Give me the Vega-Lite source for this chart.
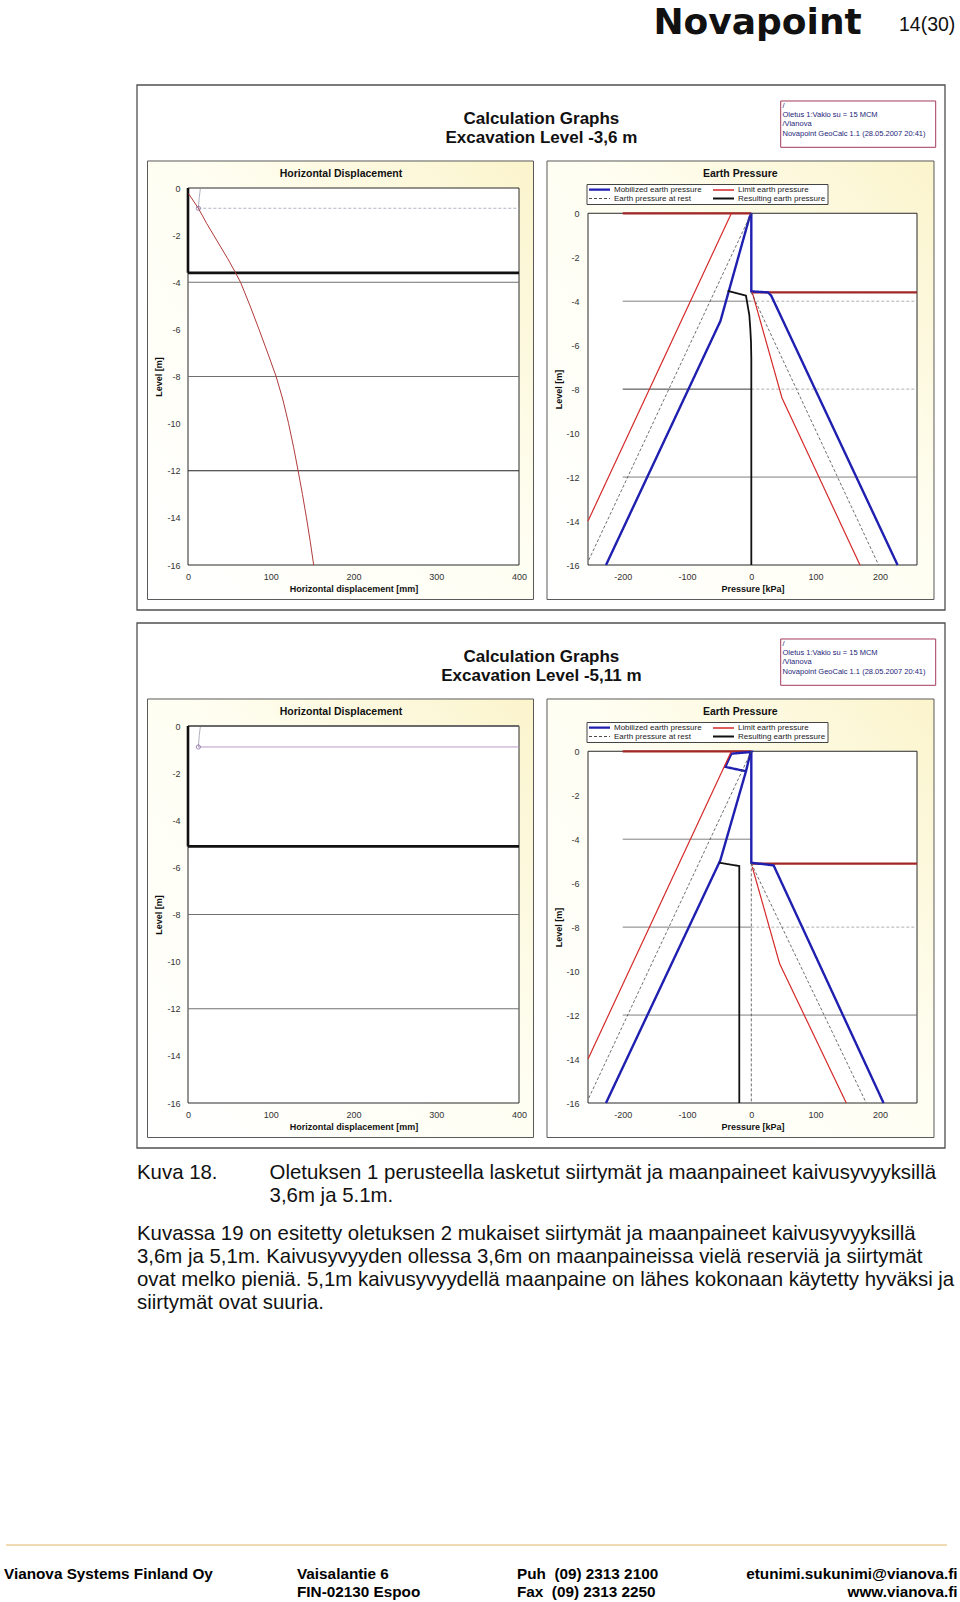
{
"$schema": "https://vega.github.io/schema/vega-lite/v6.json",
"background": "#ffffff",
"padding": 0,
"columns": 2,
"spacing": {"row": 161, "column": 69},
"bounds": "flush",
"align": "all",
"resolve": {"scale": {"color": "independent", "strokeDash": "independent"}, "legend": {"color": "independent", "strokeDash": "independent"}},
"config": {"view": {"stroke": null}, "font": "Liberation Sans"},
"datasets": {
 "disp1": [{"x":0.8,"z":-0.25},{"x":12.5,"z":-0.86},{"x":22.5,"z":-1.5},{"x":31,"z":-2},{"x":48,"z":-3},{"x":57.5,"z":-3.6},{"x":63.5,"z":-4},{"x":75,"z":-5},{"x":85.8,"z":-6},{"x":96.3,"z":-7},{"x":106.5,"z":-8},{"x":114.8,"z":-9},{"x":121.6,"z":-10},{"x":127.6,"z":-11},{"x":133.1,"z":-12},{"x":138.3,"z":-13},{"x":143.2,"z":-14},{"x":147.7,"z":-15},{"x":151.9,"z":-16}],
 "anc1": [{"x":14.9,"z":-0.04},{"x":13.6,"z":-0.4},{"x":12.5,"z":-0.86}],
 "pin1": [{"x":12.5,"z":-0.86}],
 "lvl1": [
  {"k":"excavation","x1":0,"x2":400,"z1":-3.6,"z2":-3.6},
  {"k":"excavation","x1":0,"x2":0,"z1":0,"z2":-3.6},
  {"k":"layer","x1":0,"x2":400,"z1":-4,"z2":-4},
  {"k":"layer","x1":0,"x2":400,"z1":-8,"z2":-8},
  {"k":"deep","x1":0,"x2":400,"z1":-12,"z2":-12},
  {"k":"anchor","x1":12.5,"x2":400,"z1":-0.86,"z2":-0.86}],
 "anc2": [{"x":14.9,"z":-0.04},{"x":13.6,"z":-0.4},{"x":12.5,"z":-0.89}],
 "pin2": [{"x":12.5,"z":-0.89}],
 "lvl2": [
  {"k":"ground","x1":0,"x2":400,"z1":0,"z2":0},
  {"k":"excavation","x1":0,"x2":400,"z1":-5.11,"z2":-5.11},
  {"k":"excavation","x1":0,"x2":0,"z1":0,"z2":-5.11},
  {"k":"layer","x1":0,"x2":400,"z1":-8,"z2":-8},
  {"k":"layer","x1":0,"x2":400,"z1":-12,"z2":-12},
  {"k":"anchor2","x1":12.5,"x2":400,"z1":-0.89,"z2":-0.89}],
 "rl1": [
  {"k":"surface","p1":-200,"p2":0,"z":0},
  {"k":"excavation","p1":0,"p2":257.7,"z":-3.6},
  {"k":"layer","p1":-200,"p2":0,"z":-4},
  {"k":"rest","p1":0,"p2":257.7,"z":-4},
  {"k":"deep","p1":-200,"p2":0,"z":-8},
  {"k":"rest","p1":0,"p2":257.7,"z":-8},
  {"k":"layer","p1":-200,"p2":257.7,"z":-12}],
 "rl2": [
  {"k":"surface","p1":-200,"p2":0,"z":0},
  {"k":"excavation","p1":0,"p2":257.7,"z":-5.11},
  {"k":"layer","p1":-200,"p2":0,"z":-4},
  {"k":"layer","p1":-200,"p2":0,"z":-8},
  {"k":"rest","p1":0,"p2":257.7,"z":-8},
  {"k":"layer","p1":-200,"p2":257.7,"z":-12}],
 "ep1": [
  {"s":"Mobilized earth pressure","g":"mL","p":0,"z":0},{"s":"Mobilized earth pressure","g":"mL","p":-3,"z":-0.2},{"s":"Mobilized earth pressure","g":"mL","p":-48,"z":-4.9},{"s":"Mobilized earth pressure","g":"mL","p":-226,"z":-16},
  {"s":"Mobilized earth pressure","g":"mR","p":0,"z":0},{"s":"Mobilized earth pressure","g":"mR","p":0,"z":-3.55},{"s":"Mobilized earth pressure","g":"mR","p":26,"z":-3.6},{"s":"Mobilized earth pressure","g":"mR","p":31,"z":-3.75},{"s":"Mobilized earth pressure","g":"mR","p":227.5,"z":-16},
  {"s":"Limit earth pressure","g":"lL","p":-31,"z":0},{"s":"Limit earth pressure","g":"lL","p":-254,"z":-14},
  {"s":"Limit earth pressure","g":"lR","p":1.5,"z":-3.6},{"s":"Limit earth pressure","g":"lR","p":47.7,"z":-8.4},{"s":"Limit earth pressure","g":"lR","p":169,"z":-16},
  {"s":"Earth pressure at rest","g":"rL","p":0,"z":0},{"s":"Earth pressure at rest","g":"rL","p":-254,"z":-15.85},
  {"s":"Earth pressure at rest","g":"rR","p":0,"z":-3.6},{"s":"Earth pressure at rest","g":"rR","p":198,"z":-16},
  {"s":"Resulting earth pressure","g":"res","p":-36.8,"z":-3.53},{"s":"Resulting earth pressure","g":"res","p":-8.3,"z":-3.75},{"s":"Resulting earth pressure","g":"res","p":-3.1,"z":-4.63},{"s":"Resulting earth pressure","g":"res","p":-1.6,"z":-5.23},{"s":"Resulting earth pressure","g":"res","p":-0.5,"z":-5.84},{"s":"Resulting earth pressure","g":"res","p":0,"z":-6.6},{"s":"Resulting earth pressure","g":"res","p":0,"z":-16}],
 "ep2": [
  {"s":"Mobilized earth pressure","g":"mL","p":-8.3,"z":-0.91},{"s":"Mobilized earth pressure","g":"mL","p":-1.6,"z":-0.11},{"s":"Mobilized earth pressure","g":"mL","p":0,"z":-0.03},{"s":"Mobilized earth pressure","g":"mL","p":-31.1,"z":-0.11},{"s":"Mobilized earth pressure","g":"mL","p":-40.4,"z":-0.71},{"s":"Mobilized earth pressure","g":"mL","p":-8.3,"z":-0.91},{"s":"Mobilized earth pressure","g":"mL","p":-48.2,"z":-4.96},{"s":"Mobilized earth pressure","g":"mL","p":-226,"z":-16},
  {"s":"Mobilized earth pressure","g":"mR","p":0,"z":-0.03},{"s":"Mobilized earth pressure","g":"mR","p":0,"z":-5.07},{"s":"Mobilized earth pressure","g":"mR","p":34.7,"z":-5.19},{"s":"Mobilized earth pressure","g":"mR","p":205.7,"z":-16},
  {"s":"Limit earth pressure","g":"lL","p":-31,"z":0},{"s":"Limit earth pressure","g":"lL","p":-254,"z":-14},
  {"s":"Limit earth pressure","g":"lR","p":1.5,"z":-5.26},{"s":"Limit earth pressure","g":"lR","p":44,"z":-9.66},{"s":"Limit earth pressure","g":"lR","p":147.7,"z":-16},
  {"s":"Earth pressure at rest","g":"rL","p":0,"z":0},{"s":"Earth pressure at rest","g":"rL","p":-254,"z":-15.85},
  {"s":"Earth pressure at rest","g":"rR","p":0,"z":-5.1},{"s":"Earth pressure at rest","g":"rR","p":178.8,"z":-16},
  {"s":"Earth pressure at rest","g":"rV","p":0,"z":-5.1},{"s":"Earth pressure at rest","g":"rV","p":0,"z":-16},
  {"s":"Resulting earth pressure","g":"res","p":-49.7,"z":-5.07},{"s":"Resulting earth pressure","g":"res","p":-18.7,"z":-5.22},{"s":"Resulting earth pressure","g":"res","p":-18.7,"z":-16}]
},
"concat": [
{
 "width": 331, "height": 377,
 "resolve": {"axis": {"x": "independent", "y": "independent"}},
 "layer": [
  {"data": {"values": [{}]}, "mark": {"type": "rect", "fill": "#ffffff"},
   "encoding": {"x": {"datum": -226.949, "type": "quantitative", "scale": {"domain":[0,400],"nice":false,"zero":false}, "axis": null}, "x2": {"datum": 932.689},
                "y": {"datum": 7.9703, "type": "quantitative", "scale": {"domain":[-16,0],"nice":false,"zero":false}, "axis": null}, "y2": {"datum": -60.0021}}},
  {"data": {"values": [{}]}, "mark": {"type": "rect", "filled": false, "color": "#505050", "strokeWidth": 1.3},
   "encoding": {"x": {"datum": -61.63, "type": "quantitative", "scale": {"domain":[0,400],"nice":false,"zero":false}, "axis": null}, "x2": {"datum": 914.8},
                "y": {"datum": 4.3714, "type": "quantitative", "scale": {"domain":[-16,0],"nice":false,"zero":false}, "axis": null}, "y2": {"datum": -17.91}}},
  {"data": {"values": [{}]}, "mark": {"type": "rect", "stroke": "#5a5a5a", "strokeWidth": 1, "fill": {"gradient": "linear", "x1": 0, "y1": 1, "x2": 1, "y2": 0, "stops": [{"offset": 0, "color": "#ffffff"}, {"offset": 0.55, "color": "#fffef2"}, {"offset": 1, "color": "#fbf4cc"}]}},
   "encoding": {"x": {"datum": -48.94, "type": "quantitative", "scale": {"domain":[0,400],"nice":false,"zero":false}, "axis": null}, "x2": {"datum": 417.52},
                "y": {"datum": 1.1459, "type": "quantitative", "scale": {"domain":[-16,0],"nice":false,"zero":false}, "axis": null}, "y2": {"datum": -17.464}}},
  {"data": {"values": [{}]}, "mark": {"type": "rect", "fill": "#ffffff", "stroke": "#2a2a2a", "strokeWidth": 1},
   "encoding": {"x": {"datum": 0, "type": "quantitative", "scale": {"domain":[0,400],"nice":false,"zero":false}, "axis": null}, "x2": {"datum": 400},
                "y": {"datum": 0, "type": "quantitative", "scale": {"domain":[-16,0],"nice":false,"zero":false}, "axis": null}, "y2": {"datum": -16}}},
  {"data": {"name": "lvl1"}, "mark": {"type": "rule"},
   "encoding": {
    "x": {"field": "x1", "type": "quantitative", "scale": {"domain":[0,400],"nice":false,"zero":false},
          "axis": {"orient": "top", "values": [0,20,40,60,80,100,120,140,160,180,200,220,240,260,280,300,320,340,360,380,400], "labels": false, "domain": false, "grid": false, "tickSize": 0, "tickColor": "#222222", "title": null, "zindex": 1,
                   "encode": {"ticks": {"update": {"y": {"signal": "datum.value % 100 === 0 ? -3 : 0"}, "y2": {"signal": "datum.value % 100 === 0 ? 4 : 3"}}}}}},
    "x2": {"field": "x2"},
    "y": {"field": "z1", "type": "quantitative", "scale": {"domain":[-16,0],"nice":false,"zero":false},
          "axis": {"orient": "right", "values": [-16,-15.5,-15,-14.5,-14,-13.5,-13,-12.5,-12,-11.5,-11,-10.5,-10,-9.5,-9,-8.5,-8,-7.5,-7,-6.5,-6,-5.5,-5,-4.5,-4,-3.5,-3,-2.5,-2,-1.5,-1,-0.5,0], "labels": false, "domain": false, "grid": false, "tickSize": 0, "tickColor": "#222222", "title": null, "zindex": 1,
                   "encode": {"ticks": {"update": {"x": {"signal": "datum.value % 2 === 0 ? 3 : 0"}, "x2": {"signal": "datum.value % 2 === 0 ? -4 : -3"}}}}}},
    "y2": {"field": "z2"},
    "color": {"condition": [{"test": "datum.k === 'excavation'", "value": "#111111"}, {"test": "datum.k === 'deep'", "value": "#222222"}, {"test": "datum.k === 'anchor'", "value": "#b4b4c4"}], "value": "#707070"},
    "strokeWidth": {"condition": [{"test": "datum.k === 'excavation'", "value": 2.6}], "value": 1},
    "strokeDash": {"condition": [{"test": "datum.k === 'anchor'", "value": [3, 2]}], "value": [1, 0]}
   }},
  {"data": {"name": "anc1"}, "mark": {"type": "line", "color": "#9a9aae", "strokeWidth": 0.8},
   "encoding": {"x": {"field": "x", "type": "quantitative", "scale": {"domain":[0,400],"nice":false,"zero":false}, "axis": null},
                "y": {"field": "z", "type": "quantitative", "scale": {"domain":[-16,0],"nice":false,"zero":false}, "axis": null},
                "order": {"value": null}}},
  {"data": {"name": "disp1"}, "mark": {"type": "line", "color": "#b23a3a", "strokeWidth": 1},
   "encoding": {
    "x": {"field": "x", "type": "quantitative", "scale": {"domain":[0,400],"nice":false,"zero":false},
          "axis": {"orient": "bottom", "values": [0,20,40,60,80,100,120,140,160,180,200,220,240,260,280,300,320,340,360,380,400], "labelExpr": "datum.value % 100 === 0 ? '' + datum.value : ''", "labelFlush": false, "labelOverlap": false, "labelPadding": 7, "labelFont": "Liberation Sans", "labelFontSize": 9, "labelColor": "#333333", "domain": false, "grid": false, "tickSize": 0, "tickColor": "#222222", "title": "Horizontal displacement [mm]", "titleFont": "Liberation Sans", "titleFontSize": 9, "titleFontWeight": "bold", "titleColor": "#111111", "titleY": 26, "titleBaseline": "alphabetic", "zindex": 1,
                   "encode": {"ticks": {"update": {"y": {"signal": "datum.value % 100 === 0 ? 3 : 0"}, "y2": {"signal": "datum.value % 100 === 0 ? -4 : -3"}}}}}},
    "y": {"field": "z", "type": "quantitative", "scale": {"domain":[-16,0],"nice":false,"zero":false},
          "axis": {"orient": "left", "values": [-16,-15.5,-15,-14.5,-14,-13.5,-13,-12.5,-12,-11.5,-11,-10.5,-10,-9.5,-9,-8.5,-8,-7.5,-7,-6.5,-6,-5.5,-5,-4.5,-4,-3.5,-3,-2.5,-2,-1.5,-1,-0.5,0], "labelExpr": "datum.value % 2 === 0 ? '' + datum.value : ''", "labelFlush": false, "labelOverlap": false, "labelPadding": 8, "labelFont": "Liberation Sans", "labelFontSize": 9, "labelColor": "#333333", "domain": false, "grid": false, "tickSize": 0, "tickColor": "#222222", "title": "Level [m]", "titleFont": "Liberation Sans", "titleFontSize": 9, "titleFontWeight": "bold", "titleColor": "#111111", "titleX": -26.5, "titleAngle": 270, "titleBaseline": "alphabetic", "zindex": 1,
                   "encode": {"ticks": {"update": {"x": {"signal": "datum.value % 2 === 0 ? -3 : 0"}, "x2": {"signal": "datum.value % 2 === 0 ? 4 : 3"}}}}}},
    "order": {"value": null}
   }},
  {"data": {"name": "pin1"}, "mark": {"type": "point", "shape": "circle", "filled": false, "size": 18, "strokeWidth": 1, "color": "#7b5c9c"},
   "encoding": {"x": {"field": "x", "type": "quantitative", "scale": {"domain":[0,400],"nice":false,"zero":false}, "axis": null},
                "y": {"field": "z", "type": "quantitative", "scale": {"domain":[-16,0],"nice":false,"zero":false}, "axis": null}}},
  {"data": {"values": [{}]}, "mark": {"type": "text", "text": ["Calculation Graphs", "Excavation Level -3,6 m"], "align": "center", "baseline": "alphabetic", "font": "Liberation Sans", "fontSize": 17, "fontWeight": "bold", "lineHeight": 19.4, "color": "#111111"},
   "encoding": {"x": {"datum": 427.07, "type": "quantitative", "scale": {"domain":[0,400],"nice":false,"zero":false}, "axis": null},
                "y": {"datum": 2.7332, "type": "quantitative", "scale": {"domain":[-16,0],"nice":false,"zero":false}, "axis": null}}},
  {"data": {"values": [{}]}, "mark": {"type": "text", "text": "Horizontal Displacement", "align": "center", "baseline": "alphabetic", "font": "Liberation Sans", "fontSize": 10.5, "fontWeight": "bold", "color": "#111111"},
   "encoding": {"x": {"datum": 184.9, "type": "quantitative", "scale": {"domain":[0,400],"nice":false,"zero":false}, "axis": null},
                "y": {"datum": 0.4668, "type": "quantitative", "scale": {"domain":[-16,0],"nice":false,"zero":false}, "axis": null}}},
  {"data": {"values": [{}]}, "mark": {"type": "text", "text": "Novapoint", "align": "left", "baseline": "alphabetic", "font": "DejaVu Sans", "fontSize": 36, "fontWeight": "bold", "color": "#111111"},
   "encoding": {"x": {"datum": 562.5, "type": "quantitative", "scale": {"domain":[0,400],"nice":false,"zero":false}, "axis": null},
                "y": {"datum": 6.557, "type": "quantitative", "scale": {"domain":[-16,0],"nice":false,"zero":false}, "axis": null}}},
  {"data": {"values": [{}]}, "mark": {"type": "text", "text": "14(30)", "align": "left", "baseline": "alphabetic", "font": "Liberation Sans", "fontSize": 19.5, "color": "#111111"},
   "encoding": {"x": {"datum": 859.2, "type": "quantitative", "scale": {"domain":[0,400],"nice":false,"zero":false}, "axis": null},
                "y": {"datum": 6.6420, "type": "quantitative", "scale": {"domain":[-16,0],"nice":false,"zero":false}, "axis": null}}}
 ]
},
{
 "width": 329, "height": 377,
 "resolve": {"axis": {"x": "independent", "y": "independent"}},
 "layer": [
  {"data": {"values": [{}]}, "mark": {"type": "rect", "stroke": "#5a5a5a", "strokeWidth": 1, "fill": {"gradient": "linear", "x1": 0, "y1": 1, "x2": 1, "y2": 0, "stops": [{"offset": 0, "color": "#ffffff"}, {"offset": 0.55, "color": "#fffef2"}, {"offset": 1, "color": "#fbf4cc"}]}},
   "encoding": {"x": {"datum": -317.77, "type": "quantitative", "scale": {"domain":[-254,257.7],"nice":false,"zero":false}, "axis": null}, "x2": {"datum": 284.14},
                "y": {"datum": 2.3783, "type": "quantitative", "scale": {"domain":[-16,1.15],"nice":false,"zero":false}, "axis": null}, "y2": {"datum": -17.569}}},
  {"data": {"values": [{}]}, "mark": {"type": "rect", "fill": "#ffffff", "stroke": "#2a2a2a", "strokeWidth": 1},
   "encoding": {"x": {"datum": -254, "type": "quantitative", "scale": {"domain":[-254,257.7],"nice":false,"zero":false}, "axis": null}, "x2": {"datum": 257.7},
                "y": {"datum": 0, "type": "quantitative", "scale": {"domain":[-16,1.15],"nice":false,"zero":false}, "axis": null}, "y2": {"datum": -16}}},
  {"data": {"name": "rl1"}, "mark": {"type": "rule"},
   "encoding": {
    "x": {"field": "p1", "type": "quantitative", "scale": {"domain":[-254,257.7],"nice":false,"zero":false},
          "axis": {"orient": "top", "offset": -25.28, "values": [-240,-220,-200,-180,-160,-140,-120,-100,-80,-60,-40,-20,0,20,40,60,80,100,120,140,160,180,200,220,240], "labels": false, "domain": false, "grid": false, "tickSize": 0, "tickColor": "#222222", "title": null, "zindex": 1,
                   "encode": {"ticks": {"update": {"y": {"signal": "datum.value % 100 === 0 ? -3 : 0"}, "y2": {"signal": "datum.value % 100 === 0 ? 4 : 3"}}}}}},
    "x2": {"field": "p2"},
    "y": {"field": "z", "type": "quantitative", "scale": {"domain":[-16,1.15],"nice":false,"zero":false},
          "axis": {"orient": "right", "values": [-16,-15.5,-15,-14.5,-14,-13.5,-13,-12.5,-12,-11.5,-11,-10.5,-10,-9.5,-9,-8.5,-8,-7.5,-7,-6.5,-6,-5.5,-5,-4.5,-4,-3.5,-3,-2.5,-2,-1.5,-1,-0.5,0], "labels": false, "domain": false, "grid": false, "tickSize": 0, "tickColor": "#222222", "title": null, "zindex": 1,
                   "encode": {"ticks": {"update": {"x": {"signal": "datum.value % 2 === 0 ? 3 : 0"}, "x2": {"signal": "datum.value % 2 === 0 ? -4 : -3"}}}}}},
    "color": {"condition": [{"test": "datum.k === 'surface' || datum.k === 'excavation'", "value": "#a32626"}, {"test": "datum.k === 'deep'", "value": "#222222"}, {"test": "datum.k === 'rest'", "value": "#9a9a9a"}], "value": "#707070"},
    "strokeWidth": {"condition": [{"test": "datum.k === 'surface' || datum.k === 'excavation'", "value": 2.2}, {"test": "datum.k === 'rest'", "value": 0.8}], "value": 1},
    "strokeDash": {"condition": [{"test": "datum.k === 'rest'", "value": [3, 2]}], "value": [1, 0]}
   }},
  {"data": {"name": "ep1"}, "mark": {"type": "line"},
   "encoding": {
    "x": {"field": "p", "type": "quantitative", "scale": {"domain":[-254,257.7],"nice":false,"zero":false},
          "axis": {"orient": "bottom", "values": [-240,-220,-200,-180,-160,-140,-120,-100,-80,-60,-40,-20,0,20,40,60,80,100,120,140,160,180,200,220,240], "labelExpr": "datum.value % 100 === 0 ? '' + datum.value : ''", "labelFlush": false, "labelOverlap": false, "labelPadding": 7, "labelFont": "Liberation Sans", "labelFontSize": 9, "labelColor": "#333333", "domain": false, "grid": false, "tickSize": 0, "tickColor": "#222222", "title": "Pressure [kPa]", "titleFont": "Liberation Sans", "titleFontSize": 9, "titleFontWeight": "bold", "titleColor": "#111111", "titleY": 26, "titleBaseline": "alphabetic", "zindex": 1,
                   "encode": {"ticks": {"update": {"y": {"signal": "datum.value % 100 === 0 ? 3 : 0"}, "y2": {"signal": "datum.value % 100 === 0 ? -4 : -3"}}}}}},
    "y": {"field": "z", "type": "quantitative", "scale": {"domain":[-16,1.15],"nice":false,"zero":false},
          "axis": {"orient": "left", "values": [-16,-15.5,-15,-14.5,-14,-13.5,-13,-12.5,-12,-11.5,-11,-10.5,-10,-9.5,-9,-8.5,-8,-7.5,-7,-6.5,-6,-5.5,-5,-4.5,-4,-3.5,-3,-2.5,-2,-1.5,-1,-0.5,0], "labelExpr": "datum.value % 2 === 0 ? '' + datum.value : ''", "labelFlush": false, "labelOverlap": false, "labelPadding": 9, "labelFont": "Liberation Sans", "labelFontSize": 9, "labelColor": "#333333", "domain": false, "grid": false, "tickSize": 0, "tickColor": "#222222", "title": "Level [m]", "titleFont": "Liberation Sans", "titleFontSize": 9, "titleFontWeight": "bold", "titleColor": "#111111", "titleX": -26.5, "titleY": 201, "titleAngle": 270, "titleBaseline": "alphabetic", "zindex": 1,
                   "encode": {"ticks": {"update": {"x": {"signal": "datum.value % 2 === 0 ? -3 : 0"}, "x2": {"signal": "datum.value % 2 === 0 ? 4 : 3"}}}}}},
    "color": {"field": "s", "type": "nominal", "scale": {"domain": ["Mobilized earth pressure", "Limit earth pressure", "Earth pressure at rest", "Resulting earth pressure"], "range": ["#1f1fb0", "#d42a2a", "#4a4a4a", "#111111"]},
              "legend": {"orient": "none", "legendX": -1.5, "legendY": -4, "title": null, "columns": 2, "direction": "horizontal", "padding": 1.5, "rowPadding": 0, "columnPadding": 7, "strokeColor": "#444444", "fillColor": "#ffffff", "symbolType": "M-0.6,0H3.6", "symbolSize": 100, "symbolStrokeWidth": 1.5, "labelFont": "Liberation Sans", "labelFontSize": 8, "labelColor": "#222222", "labelOffset": 18, "labelLimit": 200,
                         "encode": {"symbols": {"update": {"strokeWidth": {"signal": "datum.value === 'Mobilized earth pressure' ? 2.4 : datum.value === 'Resulting earth pressure' ? 2 : datum.value === 'Earth pressure at rest' ? 1 : 1.4"}, "strokeDash": {"signal": "datum.value === 'Limit earth pressure' ? [3.5, 1.8] : datum.value === 'Earth pressure at rest' ? [2, 1.8] : [1, 0]"}}}}}},
    "strokeDash": {"field": "s", "type": "nominal", "scale": {"domain": ["Mobilized earth pressure", "Limit earth pressure", "Earth pressure at rest", "Resulting earth pressure"], "range": [[1, 0], [1, 0], [3, 2], [1, 0]]},
              "legend": null},
    "strokeWidth": {"condition": [{"test": "datum.s === 'Mobilized earth pressure'", "value": 2.4}, {"test": "datum.s === 'Resulting earth pressure'", "value": 1.8}, {"test": "datum.s === 'Earth pressure at rest'", "value": 0.8}], "value": 1.2},
    "detail": {"field": "g"},
    "order": {"value": null}
   }},
  {"data": {"values": [{}]}, "mark": {"type": "text", "text": "Earth Pressure", "align": "center", "baseline": "alphabetic", "font": "Liberation Sans", "fontSize": 10.5, "fontWeight": "bold", "color": "#111111"},
   "encoding": {"x": {"datum": -17.13, "type": "quantitative", "scale": {"domain":[-254,257.7],"nice":false,"zero":false}, "axis": null},
                "y": {"datum": 1.65, "type": "quantitative", "scale": {"domain":[-16,1.15],"nice":false,"zero":false}, "axis": null}}},
  {"data": {"values": [{}]}, "mark": {"type": "rect", "fill": "#ffffff", "stroke": "#a33a5a", "strokeWidth": 1},
   "encoding": {"x": {"datum": 45.71, "type": "quantitative", "scale": {"domain":[-254,257.7],"nice":false,"zero":false}, "axis": null}, "x2": {"datum": 286.78},
                "y": {"datum": 5.1077, "type": "quantitative", "scale": {"domain":[-16,1.15],"nice":false,"zero":false}, "axis": null}, "y2": {"datum": 3.0015}}},
  {"data": {"values": [{}]}, "mark": {"type": "text", "text": ["/", "", "Oletus 1:Vakio su = 15 MCM", "/Vianova", "Novapoint GeoCalc 1.1 (28.05.2007 20:41)"], "align": "left", "baseline": "alphabetic", "font": "Liberation Sans", "fontSize": 7.5, "lineHeight": 9.4, "color": "#1e1e78"},
   "encoding": {"x": {"datum": 48.51, "type": "quantitative", "scale": {"domain":[-254,257.7],"nice":false,"zero":false}, "axis": null},
                "y": {"datum": 4.8029, "type": "quantitative", "scale": {"domain":[-16,1.15],"nice":false,"zero":false}, "axis": null}}}
 ]
},
{
 "width": 331, "height": 377,
 "resolve": {"axis": {"x": "independent", "y": "independent"}},
 "layer": [
  {"data": {"values": [{}]}, "mark": {"type": "rect", "filled": false, "color": "#505050", "strokeWidth": 1.3},
   "encoding": {"x": {"datum": -61.63, "type": "quantitative", "scale": {"domain":[0,400],"nice":false,"zero":false}, "axis": null}, "x2": {"datum": 914.8},
                "y": {"datum": 4.3714, "type": "quantitative", "scale": {"domain":[-16,0],"nice":false,"zero":false}, "axis": null}, "y2": {"datum": -17.91}}},
  {"data": {"values": [{}]}, "mark": {"type": "rect", "stroke": "#5a5a5a", "strokeWidth": 1, "fill": {"gradient": "linear", "x1": 0, "y1": 1, "x2": 1, "y2": 0, "stops": [{"offset": 0, "color": "#ffffff"}, {"offset": 0.55, "color": "#fffef2"}, {"offset": 1, "color": "#fbf4cc"}]}},
   "encoding": {"x": {"datum": -48.94, "type": "quantitative", "scale": {"domain":[0,400],"nice":false,"zero":false}, "axis": null}, "x2": {"datum": 417.52},
                "y": {"datum": 1.1459, "type": "quantitative", "scale": {"domain":[-16,0],"nice":false,"zero":false}, "axis": null}, "y2": {"datum": -17.464}}},
  {"data": {"values": [{}]}, "mark": {"type": "rect", "fill": "#ffffff", "stroke": "#2a2a2a", "strokeWidth": 1},
   "encoding": {"x": {"datum": 0, "type": "quantitative", "scale": {"domain":[0,400],"nice":false,"zero":false}, "axis": null}, "x2": {"datum": 400},
                "y": {"datum": 0, "type": "quantitative", "scale": {"domain":[-16,0],"nice":false,"zero":false}, "axis": null}, "y2": {"datum": -16}}},
  {"data": {"name": "lvl2"}, "mark": {"type": "rule"},
   "encoding": {
    "x": {"field": "x1", "type": "quantitative", "scale": {"domain":[0,400],"nice":false,"zero":false},
          "axis": {"orient": "bottom", "values": [0,20,40,60,80,100,120,140,160,180,200,220,240,260,280,300,320,340,360,380,400], "labelExpr": "datum.value % 100 === 0 ? '' + datum.value : ''", "labelFlush": false, "labelOverlap": false, "labelPadding": 7, "labelFont": "Liberation Sans", "labelFontSize": 9, "labelColor": "#333333", "domain": false, "grid": false, "tickSize": 0, "tickColor": "#222222", "title": "Horizontal displacement [mm]", "titleFont": "Liberation Sans", "titleFontSize": 9, "titleFontWeight": "bold", "titleColor": "#111111", "titleY": 26, "titleBaseline": "alphabetic", "zindex": 1,
                   "encode": {"ticks": {"update": {"y": {"signal": "datum.value % 100 === 0 ? 3 : 0"}, "y2": {"signal": "datum.value % 100 === 0 ? -4 : -3"}}}}}},
    "x2": {"field": "x2"},
    "y": {"field": "z1", "type": "quantitative", "scale": {"domain":[-16,0],"nice":false,"zero":false},
          "axis": {"orient": "left", "values": [-16,-15.5,-15,-14.5,-14,-13.5,-13,-12.5,-12,-11.5,-11,-10.5,-10,-9.5,-9,-8.5,-8,-7.5,-7,-6.5,-6,-5.5,-5,-4.5,-4,-3.5,-3,-2.5,-2,-1.5,-1,-0.5,0], "labelExpr": "datum.value % 2 === 0 ? '' + datum.value : ''", "labelFlush": false, "labelOverlap": false, "labelPadding": 8, "labelFont": "Liberation Sans", "labelFontSize": 9, "labelColor": "#333333", "domain": false, "grid": false, "tickSize": 0, "tickColor": "#222222", "title": "Level [m]", "titleFont": "Liberation Sans", "titleFontSize": 9, "titleFontWeight": "bold", "titleColor": "#111111", "titleX": -26.5, "titleAngle": 270, "titleBaseline": "alphabetic", "zindex": 1,
                   "encode": {"ticks": {"update": {"x": {"signal": "datum.value % 2 === 0 ? -3 : 0"}, "x2": {"signal": "datum.value % 2 === 0 ? 4 : 3"}}}}}},
    "y2": {"field": "z2"},
    "color": {"condition": [{"test": "datum.k === 'excavation'", "value": "#111111"}, {"test": "datum.k === 'ground'", "value": "#6a6a6a"}, {"test": "datum.k === 'anchor2'", "value": "#b89ccc"}], "value": "#707070"},
    "strokeWidth": {"condition": [{"test": "datum.k === 'excavation'", "value": 2.6}, {"test": "datum.k === 'ground'", "value": 2.2}], "value": 1}
   }},
  {"data": {"name": "anc2"}, "mark": {"type": "line", "color": "#9a9aae", "strokeWidth": 0.8},
   "encoding": {"x": {"field": "x", "type": "quantitative", "scale": {"domain":[0,400],"nice":false,"zero":false}, "axis": null},
                "y": {"field": "z", "type": "quantitative", "scale": {"domain":[-16,0],"nice":false,"zero":false}, "axis": null},
                "order": {"value": null}}},
  {"data": {"name": "pin2"}, "mark": {"type": "point", "shape": "circle", "filled": false, "size": 18, "strokeWidth": 1, "color": "#7b5c9c"},
   "encoding": {
    "x": {"field": "x", "type": "quantitative", "scale": {"domain":[0,400],"nice":false,"zero":false},
          "axis": {"orient": "top", "values": [0,20,40,60,80,100,120,140,160,180,200,220,240,260,280,300,320,340,360,380,400], "labels": false, "domain": false, "grid": false, "tickSize": 0, "tickColor": "#222222", "title": null, "zindex": 1,
                   "encode": {"ticks": {"update": {"y": {"signal": "datum.value % 100 === 0 ? -3 : 0"}, "y2": {"signal": "datum.value % 100 === 0 ? 4 : 3"}}}}}},
    "y": {"field": "z", "type": "quantitative", "scale": {"domain":[-16,0],"nice":false,"zero":false},
          "axis": {"orient": "right", "values": [-16,-15.5,-15,-14.5,-14,-13.5,-13,-12.5,-12,-11.5,-11,-10.5,-10,-9.5,-9,-8.5,-8,-7.5,-7,-6.5,-6,-5.5,-5,-4.5,-4,-3.5,-3,-2.5,-2,-1.5,-1,-0.5,0], "labels": false, "domain": false, "grid": false, "tickSize": 0, "tickColor": "#222222", "title": null, "zindex": 1,
                   "encode": {"ticks": {"update": {"x": {"signal": "datum.value % 2 === 0 ? 3 : 0"}, "x2": {"signal": "datum.value % 2 === 0 ? -4 : -3"}}}}}}
   }},
  {"data": {"values": [{}]}, "mark": {"type": "text", "text": ["Calculation Graphs", "Excavation Level -5,11 m"], "align": "center", "baseline": "alphabetic", "font": "Liberation Sans", "fontSize": 17, "fontWeight": "bold", "lineHeight": 19.4, "color": "#111111"},
   "encoding": {"x": {"datum": 427.07, "type": "quantitative", "scale": {"domain":[0,400],"nice":false,"zero":false}, "axis": null},
                "y": {"datum": 2.7332, "type": "quantitative", "scale": {"domain":[-16,0],"nice":false,"zero":false}, "axis": null}}},
  {"data": {"values": [{}]}, "mark": {"type": "text", "text": "Horizontal Displacement", "align": "center", "baseline": "alphabetic", "font": "Liberation Sans", "fontSize": 10.5, "fontWeight": "bold", "color": "#111111"},
   "encoding": {"x": {"datum": 184.9, "type": "quantitative", "scale": {"domain":[0,400],"nice":false,"zero":false}, "axis": null},
                "y": {"datum": 0.4668, "type": "quantitative", "scale": {"domain":[-16,0],"nice":false,"zero":false}, "axis": null}}},
  {"data": {"values": [{}]}, "mark": {"type": "text", "text": "Kuva 18.", "align": "left", "baseline": "alphabetic", "font": "Liberation Sans", "fontSize": 20.4, "color": "#111111"},
   "encoding": {"x": {"datum": -61.63, "type": "quantitative", "scale": {"domain":[0,400],"nice":false,"zero":false}, "axis": null},
                "y": {"datum": -19.213, "type": "quantitative", "scale": {"domain":[-16,0],"nice":false,"zero":false}, "axis": null}}},
  {"data": {"values": [{}]}, "mark": {"type": "text", "text": ["Oletuksen 1 perusteella lasketut siirtymät ja maanpaineet kaivusyvyyksillä", "3,6m ja 5.1m."], "align": "left", "baseline": "alphabetic", "font": "Liberation Sans", "fontSize": 20.4, "lineHeight": 23, "color": "#111111"},
   "encoding": {"x": {"datum": 98.61, "type": "quantitative", "scale": {"domain":[0,400],"nice":false,"zero":false}, "axis": null},
                "y": {"datum": -19.213, "type": "quantitative", "scale": {"domain":[-16,0],"nice":false,"zero":false}, "axis": null}}},
  {"data": {"values": [{}]}, "mark": {"type": "text", "text": ["Kuvassa 19 on esitetty oletuksen 2 mukaiset siirtymät ja maanpaineet kaivusyvyyksillä", "3,6m ja 5,1m. Kaivusyvyyden ollessa 3,6m on maanpaineissa vielä reserviä ja siirtymät", "ovat melko pieniä. 5,1m kaivusyvyydellä maanpaine on lähes kokonaan käytetty hyväksi ja", "siirtymät ovat suuria."], "align": "left", "baseline": "alphabetic", "font": "Liberation Sans", "fontSize": 20.4, "lineHeight": 23.2, "color": "#111111"},
   "encoding": {"x": {"datum": -61.63, "type": "quantitative", "scale": {"domain":[0,400],"nice":false,"zero":false}, "axis": null},
                "y": {"datum": -21.802, "type": "quantitative", "scale": {"domain":[-16,0],"nice":false,"zero":false}, "axis": null}}},
  {"data": {"values": [{}]}, "mark": {"type": "rule", "color": "#e3b768", "strokeWidth": 1},
   "encoding": {"x": {"datum": -219.94, "type": "quantitative", "scale": {"domain":[0,400],"nice":false,"zero":false}, "axis": null}, "x2": {"datum": 917.22},
                "y": {"datum": -34.759, "type": "quantitative", "scale": {"domain":[-16,0],"nice":false,"zero":false}, "axis": null}}},
  {"data": {"values": [{}]}, "mark": {"type": "text", "text": "Vianova Systems Finland Oy", "align": "left", "baseline": "alphabetic", "font": "Liberation Sans", "fontSize": 15.3, "fontWeight": "bold", "color": "#000000"},
   "encoding": {"x": {"datum": -222.36, "type": "quantitative", "scale": {"domain":[0,400],"nice":false,"zero":false}, "axis": null},
                "y": {"datum": -36.21, "type": "quantitative", "scale": {"domain":[-16,0],"nice":false,"zero":false}, "axis": null}}},
  {"data": {"values": [{}]}, "mark": {"type": "text", "text": ["Vaisalantie 6", "FIN-02130 Espoo"], "align": "left", "baseline": "alphabetic", "font": "Liberation Sans", "fontSize": 15.3, "fontWeight": "bold", "lineHeight": 17.4, "color": "#000000"},
   "encoding": {"x": {"datum": 131.72, "type": "quantitative", "scale": {"domain":[0,400],"nice":false,"zero":false}, "axis": null},
                "y": {"datum": -36.21, "type": "quantitative", "scale": {"domain":[-16,0],"nice":false,"zero":false}, "axis": null}}},
  {"data": {"values": [{}]}, "mark": {"type": "text", "text": ["Puh\u00a0 (09) 2313 2100", "Fax\u00a0 (09) 2313 2250"], "align": "left", "baseline": "alphabetic", "font": "Liberation Sans", "fontSize": 15.3, "fontWeight": "bold", "lineHeight": 17.4, "color": "#000000"},
   "encoding": {"x": {"datum": 397.58, "type": "quantitative", "scale": {"domain":[0,400],"nice":false,"zero":false}, "axis": null},
                "y": {"datum": -36.21, "type": "quantitative", "scale": {"domain":[-16,0],"nice":false,"zero":false}, "axis": null}}},
  {"data": {"values": [{}]}, "mark": {"type": "text", "text": ["etunimi.sukunimi@vianova.fi", "www.vianova.fi"], "align": "right", "baseline": "alphabetic", "font": "Liberation Sans", "fontSize": 15.3, "fontWeight": "bold", "lineHeight": 17.4, "color": "#000000"},
   "encoding": {"x": {"datum": 929.91, "type": "quantitative", "scale": {"domain":[0,400],"nice":false,"zero":false}, "axis": null},
                "y": {"datum": -36.21, "type": "quantitative", "scale": {"domain":[-16,0],"nice":false,"zero":false}, "axis": null}}}
 ]
},
{
 "width": 329, "height": 377,
 "resolve": {"axis": {"x": "independent", "y": "independent"}},
 "layer": [
  {"data": {"values": [{}]}, "mark": {"type": "rect", "stroke": "#5a5a5a", "strokeWidth": 1, "fill": {"gradient": "linear", "x1": 0, "y1": 1, "x2": 1, "y2": 0, "stops": [{"offset": 0, "color": "#ffffff"}, {"offset": 0.55, "color": "#fffef2"}, {"offset": 1, "color": "#fbf4cc"}]}},
   "encoding": {"x": {"datum": -317.77, "type": "quantitative", "scale": {"domain":[-254,257.7],"nice":false,"zero":false}, "axis": null}, "x2": {"datum": 284.14},
                "y": {"datum": 2.3783, "type": "quantitative", "scale": {"domain":[-16,1.15],"nice":false,"zero":false}, "axis": null}, "y2": {"datum": -17.569}}},
  {"data": {"values": [{}]}, "mark": {"type": "rect", "fill": "#ffffff", "stroke": "#2a2a2a", "strokeWidth": 1},
   "encoding": {"x": {"datum": -254, "type": "quantitative", "scale": {"domain":[-254,257.7],"nice":false,"zero":false}, "axis": null}, "x2": {"datum": 257.7},
                "y": {"datum": 0, "type": "quantitative", "scale": {"domain":[-16,1.15],"nice":false,"zero":false}, "axis": null}, "y2": {"datum": -16}}},
  {"data": {"name": "rl2"}, "mark": {"type": "rule"},
   "encoding": {
    "x": {"field": "p1", "type": "quantitative", "scale": {"domain":[-254,257.7],"nice":false,"zero":false},
          "axis": {"orient": "top", "offset": -25.28, "values": [-240,-220,-200,-180,-160,-140,-120,-100,-80,-60,-40,-20,0,20,40,60,80,100,120,140,160,180,200,220,240], "labels": false, "domain": false, "grid": false, "tickSize": 0, "tickColor": "#222222", "title": null, "zindex": 1,
                   "encode": {"ticks": {"update": {"y": {"signal": "datum.value % 100 === 0 ? -3 : 0"}, "y2": {"signal": "datum.value % 100 === 0 ? 4 : 3"}}}}}},
    "x2": {"field": "p2"},
    "y": {"field": "z", "type": "quantitative", "scale": {"domain":[-16,1.15],"nice":false,"zero":false},
          "axis": {"orient": "right", "values": [-16,-15.5,-15,-14.5,-14,-13.5,-13,-12.5,-12,-11.5,-11,-10.5,-10,-9.5,-9,-8.5,-8,-7.5,-7,-6.5,-6,-5.5,-5,-4.5,-4,-3.5,-3,-2.5,-2,-1.5,-1,-0.5,0], "labels": false, "domain": false, "grid": false, "tickSize": 0, "tickColor": "#222222", "title": null, "zindex": 1,
                   "encode": {"ticks": {"update": {"x": {"signal": "datum.value % 2 === 0 ? 3 : 0"}, "x2": {"signal": "datum.value % 2 === 0 ? -4 : -3"}}}}}},
    "color": {"condition": [{"test": "datum.k === 'surface' || datum.k === 'excavation'", "value": "#a32626"}, {"test": "datum.k === 'deep'", "value": "#222222"}, {"test": "datum.k === 'rest'", "value": "#9a9a9a"}], "value": "#707070"},
    "strokeWidth": {"condition": [{"test": "datum.k === 'surface' || datum.k === 'excavation'", "value": 2.2}, {"test": "datum.k === 'rest'", "value": 0.8}], "value": 1},
    "strokeDash": {"condition": [{"test": "datum.k === 'rest'", "value": [3, 2]}], "value": [1, 0]}
   }},
  {"data": {"name": "ep2"}, "mark": {"type": "line"},
   "encoding": {
    "x": {"field": "p", "type": "quantitative", "scale": {"domain":[-254,257.7],"nice":false,"zero":false},
          "axis": {"orient": "bottom", "values": [-240,-220,-200,-180,-160,-140,-120,-100,-80,-60,-40,-20,0,20,40,60,80,100,120,140,160,180,200,220,240], "labelExpr": "datum.value % 100 === 0 ? '' + datum.value : ''", "labelFlush": false, "labelOverlap": false, "labelPadding": 7, "labelFont": "Liberation Sans", "labelFontSize": 9, "labelColor": "#333333", "domain": false, "grid": false, "tickSize": 0, "tickColor": "#222222", "title": "Pressure [kPa]", "titleFont": "Liberation Sans", "titleFontSize": 9, "titleFontWeight": "bold", "titleColor": "#111111", "titleY": 26, "titleBaseline": "alphabetic", "zindex": 1,
                   "encode": {"ticks": {"update": {"y": {"signal": "datum.value % 100 === 0 ? 3 : 0"}, "y2": {"signal": "datum.value % 100 === 0 ? -4 : -3"}}}}}},
    "y": {"field": "z", "type": "quantitative", "scale": {"domain":[-16,1.15],"nice":false,"zero":false},
          "axis": {"orient": "left", "values": [-16,-15.5,-15,-14.5,-14,-13.5,-13,-12.5,-12,-11.5,-11,-10.5,-10,-9.5,-9,-8.5,-8,-7.5,-7,-6.5,-6,-5.5,-5,-4.5,-4,-3.5,-3,-2.5,-2,-1.5,-1,-0.5,0], "labelExpr": "datum.value % 2 === 0 ? '' + datum.value : ''", "labelFlush": false, "labelOverlap": false, "labelPadding": 9, "labelFont": "Liberation Sans", "labelFontSize": 9, "labelColor": "#333333", "domain": false, "grid": false, "tickSize": 0, "tickColor": "#222222", "title": "Level [m]", "titleFont": "Liberation Sans", "titleFontSize": 9, "titleFontWeight": "bold", "titleColor": "#111111", "titleX": -26.5, "titleY": 201, "titleAngle": 270, "titleBaseline": "alphabetic", "zindex": 1,
                   "encode": {"ticks": {"update": {"x": {"signal": "datum.value % 2 === 0 ? -3 : 0"}, "x2": {"signal": "datum.value % 2 === 0 ? 4 : 3"}}}}}},
    "color": {"field": "s", "type": "nominal", "scale": {"domain": ["Mobilized earth pressure", "Limit earth pressure", "Earth pressure at rest", "Resulting earth pressure"], "range": ["#1f1fb0", "#d42a2a", "#4a4a4a", "#111111"]},
              "legend": {"orient": "none", "legendX": -1.5, "legendY": -4, "title": null, "columns": 2, "direction": "horizontal", "padding": 1.5, "rowPadding": 0, "columnPadding": 7, "strokeColor": "#444444", "fillColor": "#ffffff", "symbolType": "M-0.6,0H3.6", "symbolSize": 100, "symbolStrokeWidth": 1.5, "labelFont": "Liberation Sans", "labelFontSize": 8, "labelColor": "#222222", "labelOffset": 18, "labelLimit": 200,
                         "encode": {"symbols": {"update": {"strokeWidth": {"signal": "datum.value === 'Mobilized earth pressure' ? 2.4 : datum.value === 'Resulting earth pressure' ? 2 : datum.value === 'Earth pressure at rest' ? 1 : 1.4"}, "strokeDash": {"signal": "datum.value === 'Limit earth pressure' ? [3.5, 1.8] : datum.value === 'Earth pressure at rest' ? [2, 1.8] : [1, 0]"}}}}}},
    "strokeDash": {"field": "s", "type": "nominal", "scale": {"domain": ["Mobilized earth pressure", "Limit earth pressure", "Earth pressure at rest", "Resulting earth pressure"], "range": [[1, 0], [1, 0], [3, 2], [1, 0]]},
              "legend": null},
    "strokeWidth": {"condition": [{"test": "datum.s === 'Mobilized earth pressure'", "value": 2.4}, {"test": "datum.s === 'Resulting earth pressure'", "value": 1.8}, {"test": "datum.s === 'Earth pressure at rest'", "value": 0.8}], "value": 1.2},
    "detail": {"field": "g"},
    "order": {"value": null}
   }},
  {"data": {"values": [{}]}, "mark": {"type": "text", "text": "Earth Pressure", "align": "center", "baseline": "alphabetic", "font": "Liberation Sans", "fontSize": 10.5, "fontWeight": "bold", "color": "#111111"},
   "encoding": {"x": {"datum": -17.13, "type": "quantitative", "scale": {"domain":[-254,257.7],"nice":false,"zero":false}, "axis": null},
                "y": {"datum": 1.65, "type": "quantitative", "scale": {"domain":[-16,1.15],"nice":false,"zero":false}, "axis": null}}},
  {"data": {"values": [{}]}, "mark": {"type": "rect", "fill": "#ffffff", "stroke": "#a33a5a", "strokeWidth": 1},
   "encoding": {"x": {"datum": 45.71, "type": "quantitative", "scale": {"domain":[-254,257.7],"nice":false,"zero":false}, "axis": null}, "x2": {"datum": 286.78},
                "y": {"datum": 5.1077, "type": "quantitative", "scale": {"domain":[-16,1.15],"nice":false,"zero":false}, "axis": null}, "y2": {"datum": 3.0015}}},
  {"data": {"values": [{}]}, "mark": {"type": "text", "text": ["/", "", "Oletus 1:Vakio su = 15 MCM", "/Vianova", "Novapoint GeoCalc 1.1 (28.05.2007 20:41)"], "align": "left", "baseline": "alphabetic", "font": "Liberation Sans", "fontSize": 7.5, "lineHeight": 9.4, "color": "#1e1e78"},
   "encoding": {"x": {"datum": 48.51, "type": "quantitative", "scale": {"domain":[-254,257.7],"nice":false,"zero":false}, "axis": null},
                "y": {"datum": 4.8029, "type": "quantitative", "scale": {"domain":[-16,1.15],"nice":false,"zero":false}, "axis": null}}}
 ]
}
]
}
